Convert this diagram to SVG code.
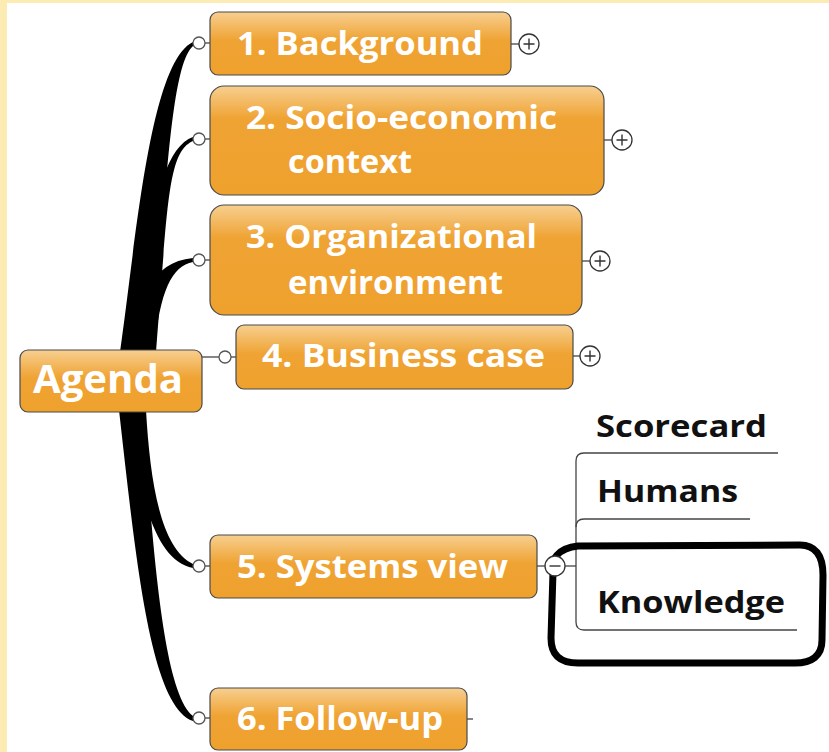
<svg xmlns="http://www.w3.org/2000/svg" width="829" height="752" viewBox="0 0 829 752">
<defs>
<linearGradient id="og" x1="0" y1="0" x2="0" y2="1">
<stop offset="0" stop-color="#F7CF90"/>
<stop offset="0.45" stop-color="#EFA333"/>
<stop offset="1" stop-color="#EFA12D"/>
</linearGradient>
<linearGradient id="og2" x1="0" y1="0" x2="0" y2="1">
<stop offset="0" stop-color="#F7CF90"/>
<stop offset="0.3" stop-color="#EFA333"/>
<stop offset="1" stop-color="#EFA12D"/>
</linearGradient>
</defs>
<style>
.node{stroke:#4a4a4a;stroke-width:1.2;fill:url(#og)}
.tall{fill:url(#og2)}
.lbl{font-family:"Open Sans","DejaVu Sans",sans-serif;font-weight:700;fill:#ffffff;font-size:33px}
.sub{font-family:"Open Sans","DejaVu Sans",sans-serif;font-weight:700;fill:#111111;font-size:30px}
.dot{fill:#ffffff;stroke:#555555;stroke-width:1.3}
.tog{fill:#ffffff;stroke:#333333;stroke-width:1.3}
.sign{stroke:#333333;stroke-width:1.4;fill:none}
.thin{stroke:#444444;stroke-width:1.3;fill:none}
.br{fill:#000000;stroke:none}
</style>
<rect x="0" y="0" width="829" height="752" fill="#ffffff"/>
<rect x="0" y="0" width="7" height="752" fill="#FCEBB2"/>
<rect x="0" y="0" width="829" height="3" fill="#FCEBB2"/>

<g id="connectors">
<path class="br" d="M120 352 C136 240 150 62 193 42 L193 46 C170 66 166 200 152 352 Z"/>
<path class="br" d="M136 352 C145 250 156 150 193 137 L193 141 C168 152 168 200 156 352 Z"/>
<path class="br" d="M134 352 C140 300 150 262 193 258 L193 262 C172 266 160 290 154 352 Z"/>
<path class="br" d="M146 410 C150 480 160 548 193 564 L193 568 C155 560 140 500 128 410 Z"/>
<path class="br" d="M142 410 C152 520 160 690 193 716 L193 721 C150 706 136 560 119 410 Z"/>
<line class="thin" x1="205" y1="43" x2="211" y2="43"/>
<line class="thin" x1="205" y1="139" x2="211" y2="139"/>
<line class="thin" x1="205" y1="260" x2="211" y2="260"/>
<line class="thin" x1="202" y1="357" x2="219" y2="357"/>
<line class="thin" x1="231" y1="357" x2="236" y2="357"/>
<line class="thin" x1="205" y1="566" x2="211" y2="566"/>
<line class="thin" x1="205" y1="718" x2="211" y2="718"/>
<line class="thin" x1="511" y1="44" x2="519" y2="44"/>
<line class="thin" x1="604" y1="140" x2="612" y2="140"/>
<line class="thin" x1="582" y1="261" x2="590" y2="261"/>
<line class="thin" x1="573" y1="356" x2="580" y2="356"/>
<line class="thin" x1="537" y1="566" x2="546" y2="566"/>
<line class="thin" x1="467" y1="719" x2="473" y2="719"/>
<line class="thin" x1="564" y1="566" x2="576" y2="566"/>
<path class="thin" d="M778 453 L584 453 Q576 453 576 461 L576 622 Q576 630 584 630 L797 630"/>
<path class="thin" d="M750 519 L584 519 Q576 519 576 527"/>
<circle class="dot" cx="199" cy="43" r="6"/>
<circle class="dot" cx="199" cy="139" r="6"/>
<circle class="dot" cx="199" cy="260" r="6"/>
<circle class="dot" cx="225" cy="357" r="6"/>
<circle class="dot" cx="199" cy="566" r="6"/>
<circle class="dot" cx="199" cy="718" r="6"/>
</g>

<g id="highlight">
<path d="M553 572 C550 560 558 548 578 546 L800 545 C815 545 823 555 823 575 L822 640 C822 656 812 663 795 663 L578 663 C560 663 551 655 551 638 Z" fill="none" stroke="#000000" stroke-width="7" stroke-linejoin="round"/>
</g>

<g id="agenda">
<rect class="node" x="20" y="350" width="182" height="62" rx="8"/>
<text class="lbl" x="33" y="393" textLength="150" lengthAdjust="spacingAndGlyphs" style="font-size:40px">Agenda</text>
</g>

<g id="n1">
<rect class="node" x="210" y="12" width="301" height="63" rx="8"/>
<text class="lbl" x="237" y="55" textLength="246" lengthAdjust="spacingAndGlyphs">1. Background</text>
<circle class="tog" cx="529" cy="44" r="10"/>
<path class="sign" d="M523.5 44 H534.5 M529 38.5 V49.5"/>
</g>

<g id="n2">
<rect class="node tall" x="210" y="86" width="394" height="109" rx="14"/>
<text class="lbl" x="246" y="129" textLength="311" lengthAdjust="spacingAndGlyphs">2. Socio-economic</text>
<text class="lbl" x="288" y="173" textLength="124" lengthAdjust="spacingAndGlyphs">context</text>
<circle class="tog" cx="622" cy="140" r="10"/>
<path class="sign" d="M616.5 140 H627.5 M622 134.5 V145.5"/>
</g>

<g id="n3">
<rect class="node tall" x="210" y="205" width="372" height="110" rx="14"/>
<text class="lbl" x="246" y="248" textLength="291" lengthAdjust="spacingAndGlyphs">3. Organizational</text>
<text class="lbl" x="288" y="294" textLength="215" lengthAdjust="spacingAndGlyphs">environment</text>
<circle class="tog" cx="600" cy="261" r="10"/>
<path class="sign" d="M594.5 261 H605.5 M600 255.5 V266.5"/>
</g>

<g id="n4">
<rect class="node" x="236" y="325" width="337" height="64" rx="8"/>
<text class="lbl" x="262" y="367" textLength="283" lengthAdjust="spacingAndGlyphs">4. Business case</text>
<circle class="tog" cx="590" cy="356" r="10"/>
<path class="sign" d="M584.5 356 H595.5 M590 350.5 V361.5"/>
</g>

<g id="n5">
<rect class="node" x="210" y="535" width="327" height="63" rx="8"/>
<text class="lbl" x="237" y="578" textLength="271" lengthAdjust="spacingAndGlyphs">5. Systems view</text>
<circle class="tog" cx="555" cy="566" r="10"/>
<path class="sign" d="M549.5 566 H560.5"/>
</g>

<g id="n6">
<rect class="node" x="210" y="688" width="257" height="62" rx="8"/>
<text class="lbl" x="237" y="730" textLength="206" lengthAdjust="spacingAndGlyphs">6. Follow-up</text>
</g>

<g id="scorecard">
<text class="sub" x="596" y="437" textLength="171" lengthAdjust="spacingAndGlyphs">Scorecard</text>
</g>
<g id="humans">
<text class="sub" x="597" y="502" textLength="141" lengthAdjust="spacingAndGlyphs">Humans</text>
</g>
<g id="knowledge">
<text class="sub" x="597" y="613" textLength="188" lengthAdjust="spacingAndGlyphs">Knowledge</text>
</g>
</svg>
